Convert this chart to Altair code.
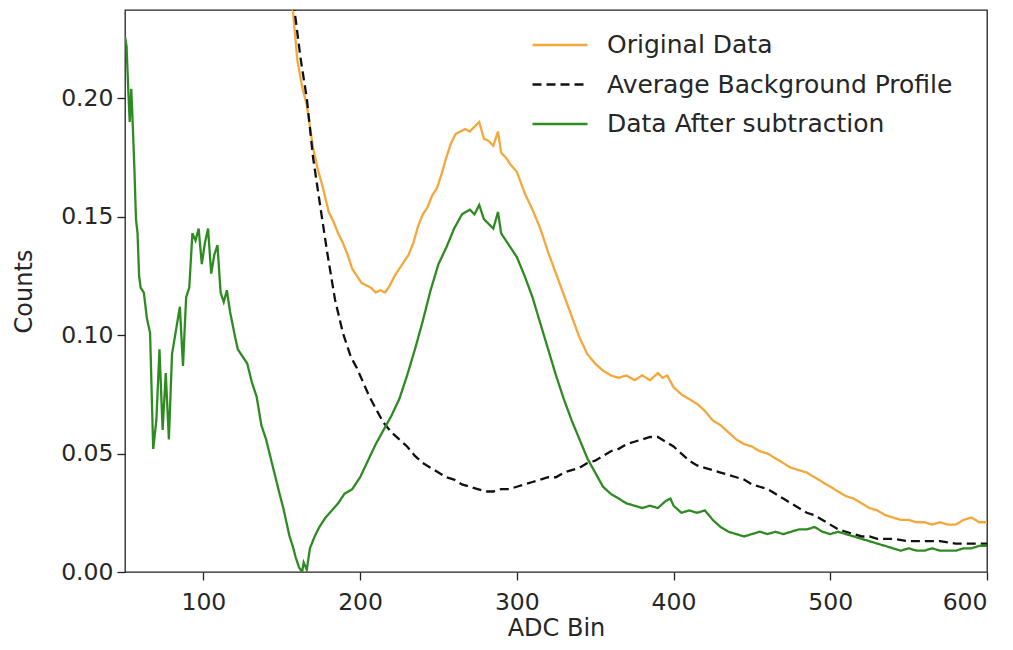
import altair as alt
import pandas as pd

# ---------------- data ----------------
orig_x = [152, 157, 160, 163, 166, 170, 173, 176, 180, 183, 186, 189, 192, 195, 198, 201, 204, 207, 210, 213,
          216, 219, 222, 225, 228, 231, 234, 237, 240, 243, 246, 249, 252, 255, 258, 261, 264, 267, 270, 273,
          276, 279, 282, 285, 288, 290, 293, 296, 300, 305, 310, 315, 320, 325, 330, 335, 340, 345, 350, 355,
          360, 365, 370, 375, 380, 385, 390, 393, 396, 400, 405, 410, 415, 420, 425, 430, 435, 440, 445, 450,
          455, 460, 465, 470, 475, 480, 485, 490, 495, 500, 505, 510, 515, 520, 525, 530, 535, 540, 545, 550,
          555, 560, 565, 570, 575, 580, 585, 590, 595, 600]
orig_y = [0.262, 0.238, 0.216, 0.205, 0.197, 0.179, 0.170, 0.163, 0.152, 0.148, 0.143, 0.139, 0.134, 0.128, 0.125, 0.122, 0.121, 0.120, 0.118, 0.119,
          0.118, 0.121, 0.125, 0.128, 0.131, 0.134, 0.139, 0.146, 0.151, 0.154, 0.159, 0.162, 0.168, 0.175, 0.181, 0.185, 0.186, 0.187, 0.186, 0.188,
          0.190, 0.183, 0.182, 0.180, 0.186, 0.177, 0.175, 0.172, 0.169, 0.160, 0.153, 0.145, 0.135, 0.126, 0.117, 0.108, 0.099, 0.092, 0.088, 0.085,
          0.083, 0.082, 0.083, 0.081, 0.083, 0.081, 0.084, 0.082, 0.083, 0.078, 0.075, 0.073, 0.071, 0.068, 0.064, 0.062, 0.059, 0.056, 0.054, 0.053,
          0.051, 0.050, 0.048, 0.046, 0.044, 0.043, 0.042, 0.040, 0.038, 0.036, 0.034, 0.032, 0.031, 0.029, 0.027, 0.026, 0.024, 0.023, 0.022, 0.022,
          0.021, 0.021, 0.020, 0.021, 0.020, 0.020, 0.022, 0.023, 0.021, 0.021]

bg_x = [152, 158, 162, 166, 170, 174, 179, 184, 189, 194, 198, 202, 206, 210, 215, 220, 225, 230, 235, 240,
        245, 250, 255, 260, 265, 270, 275, 280, 285, 290, 295, 300, 305, 310, 315, 320, 325, 330, 335, 340,
        345, 350, 355, 360, 365, 370, 375, 380, 385, 390, 395, 400, 405, 410, 415, 420, 425, 430, 435, 440,
        445, 450, 455, 460, 465, 470, 475, 480, 485, 490, 495, 500, 505, 510, 515, 520, 525, 530, 540, 550,
        560, 570, 580, 590, 600]
bg_y = [0.270, 0.238, 0.217, 0.200, 0.175, 0.157, 0.135, 0.115, 0.101, 0.091, 0.086, 0.080, 0.074, 0.069, 0.063, 0.059, 0.056, 0.053, 0.049, 0.046,
        0.044, 0.042, 0.040, 0.039, 0.037, 0.036, 0.035, 0.034, 0.034, 0.035, 0.035, 0.036, 0.037, 0.038, 0.039, 0.040, 0.040, 0.042, 0.043, 0.044,
        0.046, 0.047, 0.049, 0.051, 0.052, 0.054, 0.055, 0.056, 0.057, 0.057, 0.055, 0.053, 0.050, 0.047, 0.045, 0.044, 0.043, 0.042, 0.041, 0.040,
        0.039, 0.037, 0.036, 0.035, 0.033, 0.031, 0.029, 0.027, 0.025, 0.024, 0.022, 0.020, 0.018, 0.017, 0.016, 0.015, 0.015, 0.014, 0.014, 0.013,
        0.013, 0.013, 0.012, 0.012, 0.012]

sub_x = [50, 51, 52, 53, 54, 55, 56, 57, 58, 59, 60, 62, 64, 66, 68, 70, 72, 74, 76, 78,
         80, 82, 83, 85, 87, 89, 91, 93, 95, 97, 99, 101, 103, 105, 107, 109, 111, 113, 115, 117,
         120, 122, 125, 128, 131, 134, 137, 140, 143, 146, 149, 151, 153, 155, 157, 159, 161, 163, 164, 166,
         168, 171, 174, 178, 182, 186, 190, 195, 200, 205, 210, 215, 220, 225, 230, 235, 240, 245, 250, 255,
         260, 265, 270, 273, 276, 279, 282, 285, 288, 290, 295, 300, 305, 310, 315, 320, 325, 330, 335, 340,
         345, 350, 355, 360, 365, 370, 375, 380, 385, 390, 395, 398, 400, 405, 410, 415, 420, 425, 430, 435,
         440, 445, 450, 455, 460, 465, 470, 475, 480, 485, 490, 495, 500, 505, 510, 515, 520, 525, 530, 535,
         540, 545, 550, 555, 560, 565, 570, 575, 580, 585, 590, 595, 600]
sub_y = [0.226, 0.222, 0.205, 0.190, 0.204, 0.188, 0.170, 0.149, 0.143, 0.125, 0.120, 0.118, 0.107, 0.101, 0.052, 0.064, 0.094, 0.060, 0.084, 0.056,
         0.092, 0.100, 0.104, 0.112, 0.087, 0.116, 0.120, 0.143, 0.140, 0.145, 0.130, 0.139, 0.145, 0.126, 0.134, 0.138, 0.118, 0.114, 0.119, 0.110,
         0.100, 0.094, 0.091, 0.088, 0.080, 0.074, 0.062, 0.056, 0.048, 0.040, 0.032, 0.027, 0.021, 0.015, 0.011, 0.006, 0.002, 0.000, 0.004, 0.001,
         0.010, 0.015, 0.019, 0.023, 0.026, 0.029, 0.033, 0.035, 0.040, 0.047, 0.054, 0.060, 0.066, 0.073, 0.083, 0.094, 0.106, 0.119, 0.130, 0.137,
         0.145, 0.151, 0.153, 0.151, 0.155, 0.149, 0.147, 0.145, 0.152, 0.143, 0.138, 0.133, 0.125, 0.116, 0.105, 0.094, 0.083, 0.073, 0.064, 0.056,
         0.048, 0.042, 0.036, 0.033, 0.031, 0.029, 0.028, 0.027, 0.028, 0.027, 0.030, 0.031, 0.028, 0.025, 0.026, 0.025, 0.026, 0.022, 0.019, 0.017,
         0.016, 0.015, 0.016, 0.017, 0.016, 0.017, 0.016, 0.017, 0.018, 0.018, 0.019, 0.017, 0.016, 0.017, 0.016, 0.015, 0.014, 0.013, 0.012, 0.011,
         0.010, 0.009, 0.010, 0.009, 0.009, 0.010, 0.009, 0.009, 0.009, 0.010, 0.010, 0.011, 0.011]

series_names = ["Original Data", "Average Background Profile", "Data After subtraction"]
series_colors = ["#f4a73a", "#111111", "#2e8b22"]
series_dashes = [[1, 0], [9, 5], [1, 0]]

frames = []
for name, xs, ys in zip(series_names, [orig_x, bg_x, sub_x], [orig_y, bg_y, sub_y]):
    frames.append(pd.DataFrame({"bin": xs, "counts": ys, "series": name, "order": range(len(xs))}))
df = pd.concat(frames, ignore_index=True)

font = "DejaVu Sans"

x_enc = alt.X("bin:Q", title="ADC Bin",
              scale=alt.Scale(domain=[50, 600], nice=False, zero=False),
              axis=alt.Axis(values=[100, 200, 300, 400, 500, 600], format="d",
                            labelPadding=10, titlePadding=3))
y_enc = alt.Y("counts:Q", title="Counts",
              scale=alt.Scale(domain=[0, 0.2373], nice=False),
              axis=alt.Axis(values=[0, 0.05, 0.10, 0.15, 0.20], format=".2f",
                            labelPadding=4, titlePadding=24))
color_enc = alt.Color("series:N", title=None,
                      scale=alt.Scale(domain=series_names, range=series_colors),
                      legend=alt.Legend(orient="none", legendX=406, legendY=17, clipHeight=36))
dash_enc = alt.StrokeDash("series:N", title=None,
                          scale=alt.Scale(domain=series_names, range=series_dashes))

layers = []
for name in series_names:
    layers.append(
        alt.Chart(df).transform_filter(alt.datum.series == name)
        .mark_line(strokeWidth=2.3, clip=True, interpolate="linear")
        .encode(x=x_enc, y=y_enc, color=color_enc, strokeDash=dash_enc, order="order:Q")
    )

chart = (
    alt.layer(*layers)
    .properties(width=862, height=562,
                autosize=alt.AutoSizeParams(type="none"),
                padding={"left": 117, "top": 2, "right": 18, "bottom": 70})
    .configure_view(stroke="#222222", strokeWidth=1.3)
    .configure_axis(domain=False, grid=False, tickColor="#222222", tickSize=8, tickWidth=1.3,
                    labelFont=font, labelFontSize=23.5, labelColor="#262626",
                    titleFont=font, titleFontSize=24, titleFontWeight="normal", titleColor="#262626")
    .configure_legend(labelFont=font, labelFontSize=25, labelColor="#262626", labelLimit=600,
                      symbolType="stroke", symbolSize=3025, symbolStrokeWidth=2.5,
                      labelOffset=18, rowPadding=3.5, padding=0)
)

chart.save("out.html", embed_options={"renderer": "svg", "actions": False})
